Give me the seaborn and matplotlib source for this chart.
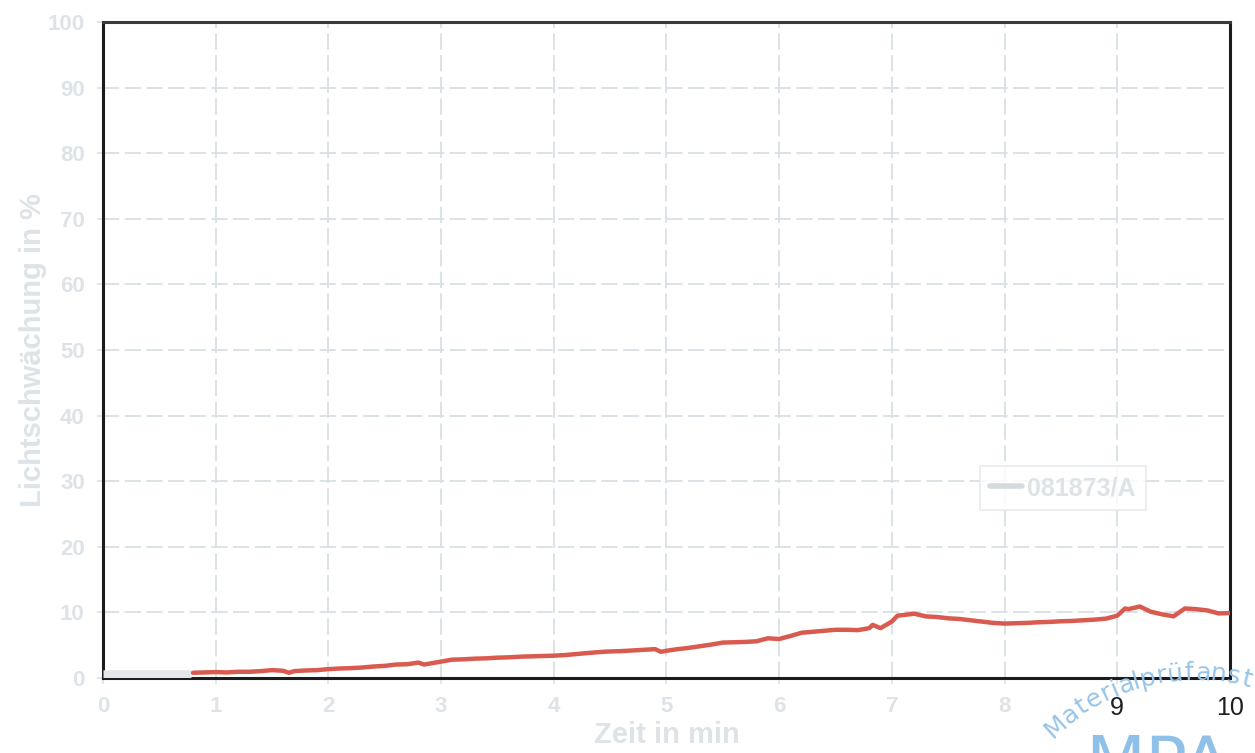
import matplotlib
matplotlib.use("Agg")
import matplotlib.pyplot as plt
from matplotlib.lines import Line2D
from matplotlib.textpath import TextPath
from matplotlib.font_manager import FontProperties
import seaborn as sns
import pandas as pd
import numpy as np

# Measured light attenuation over time (sample 081873/A)
time_min = [0.8, 0.9, 1.0, 1.1, 1.2, 1.3, 1.4, 1.5, 1.6, 1.65, 1.7, 1.8, 1.9,
            2.0, 2.1, 2.2, 2.3, 2.4, 2.5, 2.6, 2.7, 2.8, 2.85, 2.9,
            3.0, 3.1, 3.2, 3.3, 3.4, 3.5, 3.6, 3.7, 3.8, 3.9,
            4.0, 4.1, 4.2, 4.3, 4.4, 4.5, 4.6, 4.7, 4.8, 4.9, 4.95,
            5.0, 5.1, 5.2, 5.3, 5.4, 5.5, 5.6, 5.7, 5.8, 5.9,
            6.0, 6.1, 6.2, 6.3, 6.4, 6.5, 6.6, 6.7, 6.8, 6.83, 6.9,
            7.0, 7.05, 7.1, 7.2, 7.3, 7.4, 7.5, 7.6, 7.7, 7.8, 7.9,
            8.0, 8.1, 8.2, 8.3, 8.4, 8.5, 8.6, 8.7, 8.8, 8.9,
            9.0, 9.07, 9.1, 9.2, 9.3, 9.4, 9.5, 9.6, 9.7, 9.8, 9.9, 10.0]
attenuation = [0.8, 0.85, 0.9, 0.85, 0.95, 0.95, 1.05, 1.2, 1.1, 0.8, 1.05, 1.15, 1.2,
               1.35, 1.45, 1.5, 1.6, 1.75, 1.85, 2.05, 2.1, 2.35, 2.05, 2.2,
               2.5, 2.8, 2.85, 2.95, 3.0, 3.1, 3.15, 3.25, 3.3, 3.35,
               3.4, 3.5, 3.65, 3.8, 3.95, 4.05, 4.1, 4.2, 4.3, 4.4, 4.0,
               4.15, 4.4, 4.6, 4.85, 5.1, 5.4, 5.45, 5.5, 5.6, 6.05,
               5.95, 6.4, 6.9, 7.05, 7.2, 7.35, 7.35, 7.3, 7.6, 8.1, 7.6,
               8.6, 9.5, 9.6, 9.8, 9.4, 9.3, 9.1, 9.0, 8.8, 8.6, 8.4,
               8.3, 8.35, 8.4, 8.5, 8.55, 8.65, 8.7, 8.8, 8.9, 9.05,
               9.5, 10.6, 10.5, 10.9, 10.1, 9.7, 9.4, 10.6, 10.5, 10.3, 9.85, 9.9]

# Start-up segment before the recording begins
lead_time = [0.0, 0.78]
lead_value = [0.35, 0.35]

series_label = "081873/A"
x_ticks = list(range(0, 11))
y_ticks = list(range(0, 101, 10))
x_label = "Zeit in min"
y_label = "Lichtschwächung in %"
stamp_arc = "Materialprüfanstalt"
stamp_logo = "MPA"

pale = "#dde3e7"
grid_col = "#d9e0e5"
line_red = "#d95a4f"
stamp_blue = "#96c4e8"

sns.set_theme(style="white")
plt.rcParams["font.family"] = ["Liberation Sans", "DejaVu Sans"]
plt.rcParams["font.weight"] = "bold"

W, H = 1255, 753
fig = plt.figure(figsize=(W / 100, H / 100), dpi=100)
ax = fig.add_axes([0.082, 0.0996, 0.898, 0.871])

df = pd.DataFrame({"t": time_min, "v": attenuation})
lead = pd.DataFrame({"t": lead_time, "v": lead_value})

sns.lineplot(data=lead, x="t", y="v", ax=ax, color="#e2e7ea", linewidth=9,
             solid_capstyle="butt", zorder=3)
sns.lineplot(data=df, x="t", y="v", ax=ax, color=line_red, linewidth=3.2,
             zorder=4)

ax.set_xlim(0, 10)
ax.set_ylim(0, 100)
ax.set_xticks(x_ticks)
ax.set_yticks(y_ticks)
ax.set_xticklabels([str(t) for t in x_ticks])
ax.set_yticklabels([str(t) for t in y_ticks])

ax.grid(True, color=grid_col, linewidth=1.3, linestyle=(0, (9, 3)))
ax.set_axisbelow(True)

ax.tick_params(axis="both", which="major", labelsize=16, colors=pale,
               length=4, width=1.2, pad=9, direction="out",
               left=True, bottom=True)
for lbl in ax.get_xticklabels() + ax.get_yticklabels():
    lbl.set_fontweight("bold")
    lbl.set_color(pale)
for lbl in ax.get_xticklabels()[-2:]:
    lbl.set_color("#1e1e1e")
    lbl.set_fontweight("normal")
    lbl.set_fontsize(18)

ax.set_xlabel(x_label, fontsize=21, fontweight="bold", color=pale)
ax.xaxis.set_label_coords(0.5, -0.065)
ax.xaxis.label.set_va("top")
ax.set_ylabel(y_label, fontsize=21, fontweight="bold", color=pale)
ax.yaxis.set_label_coords(-0.05, 0.5)

for side in ["left", "bottom", "right", "top"]:
    ax.spines[side].set_visible(True)
    ax.spines[side].set_color("#1c1c1c")
    ax.spines[side].set_linewidth(2.2)
ax.spines["top"].set_color("#3a3a3a")

handle = Line2D([], [], color="#d5dadd", linewidth=4)
leg = ax.legend([handle], [series_label], loc="lower left",
                bbox_to_anchor=(0.767, 0.237), frameon=True, fancybox=False,
                handlelength=1.3, handletextpad=0.2, borderpad=0.4,
                prop={"size": 18, "weight": "bold"})
leg.get_frame().set_edgecolor("#e3e7ea")
leg.get_frame().set_linewidth(1.2)
for txt in leg.get_texts():
    txt.set_color(pale)

# Circular stamp lettering, laid out character by character on an arc
arc_font = FontProperties(family="DejaVu Sans", weight="normal", size=18)
px_per_pt = 100 / 72
widths = [TextPath((0, 0), ch, prop=arc_font).get_extents().width * px_per_pt
          for ch in stamp_arc]
widths = [max(w, 3) + 3.5 for w in widths]
cx, cy, r = 1195, 880, 200
start = np.deg2rad(135)
pos = 0.0
for ch, w in zip(stamp_arc, widths):
    a = start - (pos + w / 2) / r
    pos += w
    px = cx + r * np.cos(a)
    py = cy - r * np.sin(a)
    if px > W - 6:
        continue
    fig.text(px / W, 1 - py / H, ch, rotation=np.rad2deg(a) - 90,
             fontproperties=arc_font, color=stamp_blue, ha="center",
             va="baseline", rotation_mode="anchor")

fig.text(1085 / W, 1 - 733 / H, stamp_logo, fontsize=50, fontweight="normal",
         color="#8fc0e9", ha="left", va="top", family=["DejaVu Sans"])

fig.savefig("out.png", dpi=100, facecolor="white")
